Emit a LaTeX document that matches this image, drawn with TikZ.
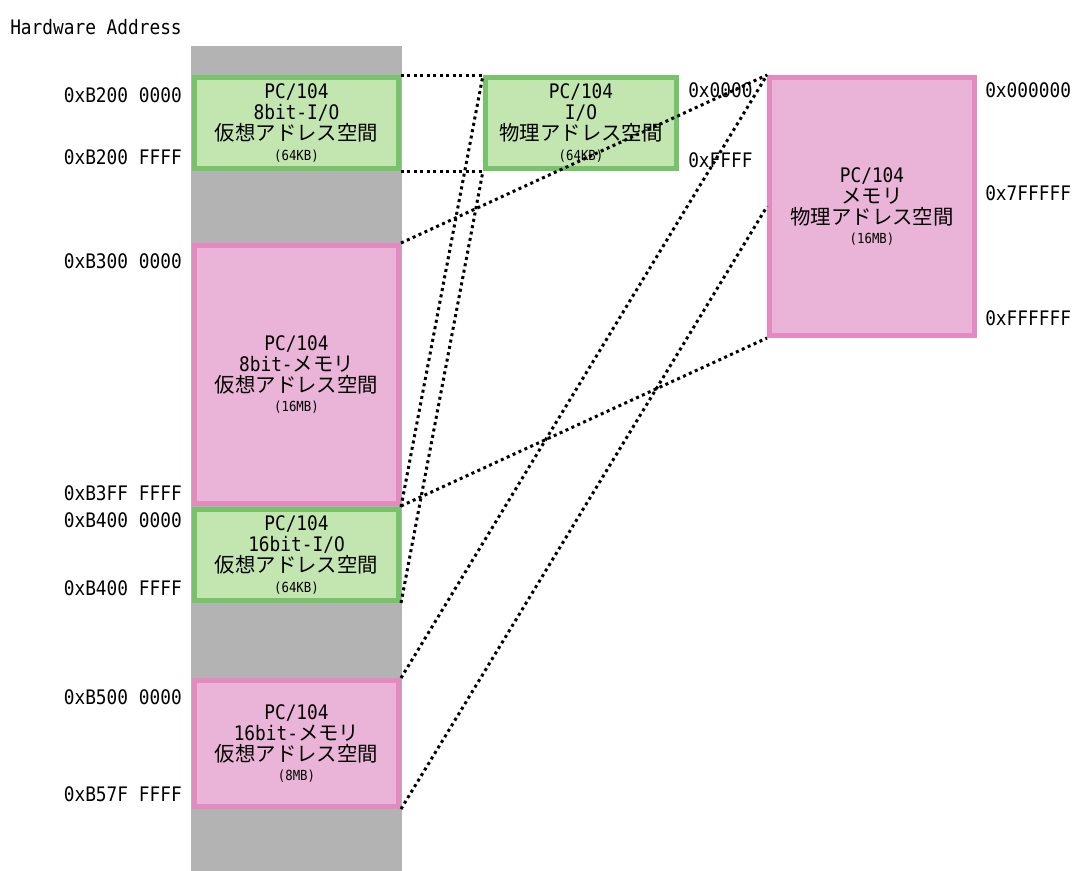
\documentclass[tikz,border=0pt]{standalone}
\usepackage{fontspec}
\setmainfont{DejaVu Sans Mono}[FakeStretch=0.89]
\newfontfamily\jp{Noto Sans CJK JP}
\definecolor{colgray}{HTML}{B3B3B3}
\definecolor{gline}{HTML}{77C36A}
\definecolor{gfill}{HTML}{C3E5B0}
\definecolor{pline}{HTML}{E48AC0}
\definecolor{pfill}{HTML}{EAB4D8}
\newcommand\jt[1]{{\jp\fontsize{15.3}{15.8}\selectfont #1}}
\newcommand\sm[1]{{\fontsize{10.4}{10}\selectfont #1}}
\newcommand\boxfont{\fontsize{15}{15.8}\selectfont\lineskiplimit=-20pt\relax}
\newcommand\lblfont{\fontsize{15}{15}\selectfont}
\tikzset{
  x=0.75pt, y=-0.75pt,
  base/.style={rectangle, line width=3.75pt, inner sep=0pt, align=center,
    font=\boxfont},
  gbox/.style={base, draw=gline, fill=gfill},
  pbox/.style={base, draw=pline, fill=pfill},
  lbl/.style={inner sep=0pt, font=\lblfont},
  dots/.style={line width=2.25pt, dash pattern=on 2.25pt off 2.6pt, black}
}
\begin{document}
\begin{tikzpicture}
\useasboundingbox (0,0) rectangle (1072,871);
\fill[colgray] (191,46) rectangle (402,871);
\node[lbl, anchor=west] (hw) at (10,27) {Hardware Address};

\node[gbox, minimum width=204*0.75pt, minimum height=91*0.75pt] (b1) at (296.5,123)
  {PC/104\\8bit-I/O\\\jt{仮想アドレス空間}\\[-1pt]\sm{(64KB)}};
\node[pbox, minimum width=204*0.75pt, minimum height=258*0.75pt] (b2) at (296.5,374.5)
  {PC/104\\8bit-\jt{メモリ}\\\jt{仮想アドレス空間}\\[-1pt]\sm{(16MB)}};
\node[gbox, minimum width=204*0.75pt, minimum height=91*0.75pt] (b3) at (296.5,555)
  {PC/104\\16bit-I/O\\\jt{仮想アドレス空間}\\[-1pt]\sm{(64KB)}};
\node[pbox, minimum width=204*0.75pt, minimum height=126*0.75pt] (b4) at (296.5,743.5)
  {PC/104\\16bit-\jt{メモリ}\\\jt{仮想アドレス空間}\\[-1pt]\sm{(8MB)}};
\node[gbox, minimum width=191*0.75pt, minimum height=91*0.75pt] (b5) at (581,123)
  {PC/104\\I/O\\\jt{物理アドレス空間}\\[-1pt]\sm{(64KB)}};
\node[pbox, minimum width=205*0.75pt, minimum height=258*0.75pt] (b6) at (872,206.5)
  {PC/104\\\jt{メモリ}\\\jt{物理アドレス空間}\\[-1pt]\sm{(16MB)}};

\node[lbl, anchor=east] (a1) at (182,95) {0xB200 0000};
\node[lbl, anchor=east] (a2) at (182,157) {0xB200 FFFF};
\node[lbl, anchor=east] (a3) at (182,261) {0xB300 0000};
\node[lbl, anchor=east] (a4) at (182,493) {0xB3FF FFFF};
\node[lbl, anchor=east] (a5) at (182,520) {0xB400 0000};
\node[lbl, anchor=east] (a6) at (182,588) {0xB400 FFFF};
\node[lbl, anchor=east] (a7) at (182,697) {0xB500 0000};
\node[lbl, anchor=east] (a8) at (182,794) {0xB57F FFFF};
\node[lbl, anchor=west] (p1) at (688,90) {0x0000};
\node[lbl, anchor=west] (p2) at (688,160) {0xFFFF};
\node[lbl, anchor=west] (m1) at (985,90) {0x000000};
\node[lbl, anchor=west] (m2) at (985,193) {0x7FFFFF};
\node[lbl, anchor=west] (m3) at (985,318) {0xFFFFFF};

\draw[dots] (b1.north east) -- (b5.north west);
\draw[dots] (b1.south east) -- (b5.south west);
\draw[dots] (b3.north east) -- (b5.north west);
\draw[dots] (b3.south east) -- (b5.south west);
\draw[dots] (b2.north east) -- (b6.north west);
\draw[dots] (b2.south east) -- (b6.south west);
\draw[dots] (b4.north east) -- (b6.north west);
\draw[dots] (b4.south east) -- (b6.west);
\end{tikzpicture}
\end{document}
